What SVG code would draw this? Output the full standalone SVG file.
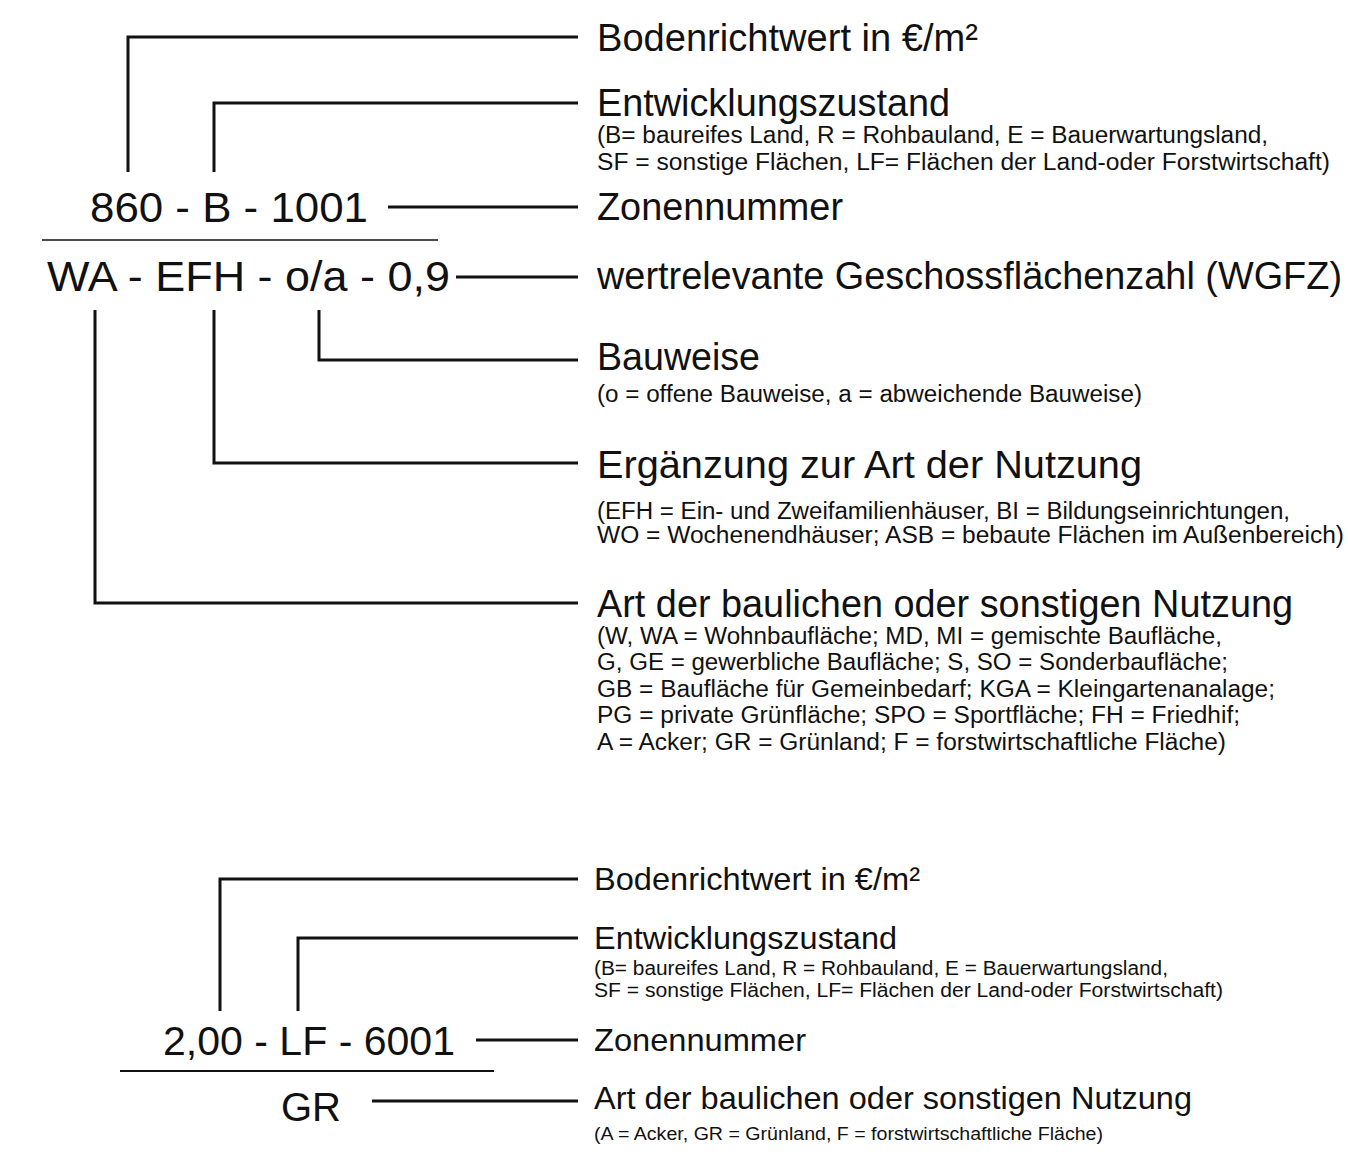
<svg xmlns="http://www.w3.org/2000/svg" width="1348" height="1156" viewBox="0 0 1348 1156">
<style>
text{font-family:"Liberation Sans",Arial,sans-serif;fill:#111}
.big{font-size:43px}
.h{font-size:38px}
.s{font-size:23px}
.hb{font-size:32px}
.sb{font-size:19.5px}
.sc{font-size:17.5px}
.c{fill:none;stroke:#111;stroke-width:3}
.sep{fill:none;stroke:#111;stroke-width:1.6}
</style>
<rect width="1348" height="1156" fill="#fff"/>
<g id="connectors">
<polyline class="c" points="128,172 128,37 578,37"/>
<polyline class="c" points="214,172 214,103 578,103"/>
<line class="c" x1="388" y1="207" x2="578" y2="207"/>
<line class="c" x1="456" y1="277" x2="578" y2="277"/>
<polyline class="c" points="319,310 319,360 578,360"/>
<polyline class="c" points="214,310 214,463 578,463"/>
<polyline class="c" points="95,310 95,603 578,603"/>
<polyline class="c" points="220,1011 220,879 578,879"/>
<polyline class="c" points="298,1011 298,938 578,938"/>
<line class="c" x1="476" y1="1040" x2="578" y2="1040"/>
<line class="c" x1="372" y1="1101" x2="578" y2="1101"/>
<line class="sep" x1="42" y1="240" x2="438" y2="240"/>
<line class="sep" x1="120" y1="1071" x2="494" y2="1071" style="stroke-width:2.2"/>
</g>
<g id="code1">
<text class="big" x="90" y="222" textLength="278" lengthAdjust="spacingAndGlyphs">860 - B - 1001</text>
<text class="big" x="47" y="291" textLength="403" lengthAdjust="spacingAndGlyphs">WA - EFH - o/a - 0,9</text>
</g>
<g id="bodenrichtwert1">
<text class="h" x="597" y="51" textLength="381" lengthAdjust="spacingAndGlyphs">Bodenrichtwert in €/m²</text>
</g>
<g id="entwicklung1">
<text class="h" x="597" y="116" textLength="353" lengthAdjust="spacingAndGlyphs">Entwicklungszustand</text>
<text class="s" x="597" y="143" textLength="671" lengthAdjust="spacingAndGlyphs">(B= baureifes Land, R = Rohbauland, E = Bauerwartungsland,</text>
<text class="s" x="597" y="170" textLength="733" lengthAdjust="spacingAndGlyphs">SF = sonstige Flächen, LF= Flächen der Land-oder Forstwirtschaft)</text>
</g>
<g id="zonen1">
<text class="h" x="597" y="220" textLength="246" lengthAdjust="spacingAndGlyphs">Zonennummer</text>
</g>
<g id="wgfz1">
<text class="h" x="597" y="289" textLength="745" lengthAdjust="spacingAndGlyphs">wertrelevante Geschossflächenzahl (WGFZ)</text>
</g>
<g id="bauweise1">
<text class="h" x="597" y="370" textLength="163" lengthAdjust="spacingAndGlyphs">Bauweise</text>
<text class="s" x="597" y="402" textLength="545" lengthAdjust="spacingAndGlyphs">(o = offene Bauweise, a = abweichende Bauweise)</text>
</g>
<g id="ergaenzung1">
<text class="h" x="597" y="478" textLength="545" lengthAdjust="spacingAndGlyphs">Ergänzung zur Art der Nutzung</text>
<text class="s" x="597" y="519" textLength="693" lengthAdjust="spacingAndGlyphs">(EFH = Ein- und Zweifamilienhäuser, BI = Bildungseinrichtungen,</text>
<text class="s" x="597" y="543" textLength="747" lengthAdjust="spacingAndGlyphs">WO = Wochenendhäuser; ASB = bebaute Flächen im Außenbereich)</text>
</g>
<g id="art1">
<text class="h" x="597" y="617" textLength="696" lengthAdjust="spacingAndGlyphs">Art der baulichen oder sonstigen Nutzung</text>
<text class="s" x="597" y="644" textLength="625" lengthAdjust="spacingAndGlyphs">(W, WA = Wohnbaufläche; MD, MI = gemischte Baufläche,</text>
<text class="s" x="597" y="670" textLength="631" lengthAdjust="spacingAndGlyphs">G, GE = gewerbliche Baufläche; S, SO = Sonderbaufläche;</text>
<text class="s" x="597" y="697" textLength="678" lengthAdjust="spacingAndGlyphs">GB = Baufläche für Gemeinbedarf; KGA = Kleingartenanalage;</text>
<text class="s" x="597" y="723" textLength="643" lengthAdjust="spacingAndGlyphs">PG = private Grünfläche; SPO = Sportfläche; FH = Friedhif;</text>
<text class="s" x="597" y="750" textLength="629" lengthAdjust="spacingAndGlyphs">A = Acker; GR = Grünland; F = forstwirtschaftliche Fläche)</text>
</g>
<g id="code2">
<text class="big" x="163" y="1055" textLength="292" lengthAdjust="spacingAndGlyphs" style="font-size:41px">2,00 - LF - 6001</text>
<text class="big" x="281" y="1121" textLength="60" lengthAdjust="spacingAndGlyphs" style="font-size:41px">GR</text>
</g>
<g id="bodenrichtwert2">
<text class="hb" x="594" y="890" textLength="326" lengthAdjust="spacingAndGlyphs">Bodenrichtwert in €/m²</text>
</g>
<g id="entwicklung2">
<text class="hb" x="594" y="949" textLength="303" lengthAdjust="spacingAndGlyphs">Entwicklungszustand</text>
<text class="sb" x="594" y="975" textLength="574" lengthAdjust="spacingAndGlyphs">(B= baureifes Land, R = Rohbauland, E = Bauerwartungsland,</text>
<text class="sb" x="594" y="997" textLength="629" lengthAdjust="spacingAndGlyphs">SF = sonstige Flächen, LF= Flächen der Land-oder Forstwirtschaft)</text>
</g>
<g id="zonen2">
<text class="hb" x="594" y="1051" textLength="212" lengthAdjust="spacingAndGlyphs">Zonennummer</text>
</g>
<g id="art2">
<text class="hb" x="594" y="1109" textLength="598" lengthAdjust="spacingAndGlyphs">Art der baulichen oder sonstigen Nutzung</text>
<text class="sc" x="594" y="1140" textLength="509" lengthAdjust="spacingAndGlyphs">(A = Acker, GR = Grünland, F = forstwirtschaftliche Fläche)</text>
</g>
</svg>
